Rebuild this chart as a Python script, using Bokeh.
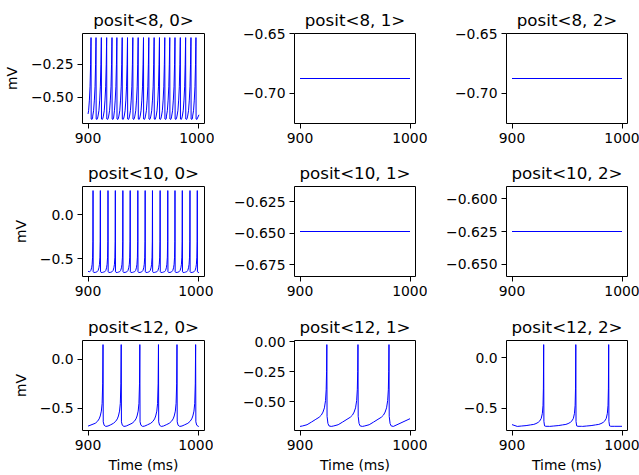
from bokeh.plotting import figure
from bokeh.layouts import gridplot
from bokeh.models import Range1d, FixedTicker
from bokeh.embed import file_html
from bokeh.resources import INLINE

# ---------------- data ----------------
titles = [["posit<8, 0>", "posit<8, 1>", "posit<8, 2>"],
          ["posit<10, 0>", "posit<10, 1>", "posit<10, 2>"],
          ["posit<12, 0>", "posit<12, 1>", "posit<12, 2>"]]

x_ticks = [900, 1000]
x_tick_labels = ["900", "1000"]

y_ticks = [[[-0.25, -0.50], [-0.65, -0.70], [-0.65, -0.70]],
           [[0.0, -0.5], [-0.625, -0.650, -0.675], [-0.600, -0.625, -0.650]],
           [[0.0, -0.5], [0.00, -0.25, -0.50], [0.0, -0.5]]]
y_tick_labels = [[["−0.25", "−0.50"], ["−0.65", "−0.70"], ["−0.65", "−0.70"]],
                 [["0.0", "−0.5"], ["−0.625", "−0.650", "−0.675"], ["−0.600", "−0.625", "−0.650"]],
                 [["0.0", "−0.5"], ["0.00", "−0.25", "−0.50"], ["0.0", "−0.5"]]]

# flat traces (constant membrane potential)
flat_8_1 = -0.6875
flat_8_2 = -0.6875
flat_10_1 = -0.6487
flat_10_2 = -0.625

# posit<8, 0>
spikes_8_0 = [902.7, 907.2, 912.0, 916.8, 921.6, 926.0, 930.8, 935.6, 940.4, 945.2,
              950.0, 954.8, 959.6, 964.4, 969.2, 973.7, 978.4, 983.2, 988.0, 992.8, 997.3]
peak_8_0 = -0.05
pre_dt_8_0 = [-3.0, -2.2, -1.5, -0.9, -0.4, -0.15]
pre_v_8_0 = [-0.64, -0.60, -0.52, -0.42, -0.25, -0.12]
post_dt_8_0 = [0.12, 0.9, 1.4]
post_v_8_0 = [-0.662, -0.665, -0.655]
ends_8_0 = [-0.624, -0.63]

# posit<10, 0>
spikes_10_0 = [904.5, 911.1, 918.0, 924.6, 931.4, 938.0, 944.9, 951.5, 958.1, 965.0,
               971.9, 978.4, 985.0, 991.9, 998.5]
peak_10_0 = 0.271
pre_dt_10_0 = [-3.0, -2.0, -1.3, -0.8, -0.4, -0.15]
pre_v_10_0 = [-0.645, -0.63, -0.60, -0.56, -0.48, -0.30]
post_dt_10_0 = [0.15, 0.6, 2.0, 3.0]
post_v_10_0 = [-0.645, -0.652, -0.652, -0.648]
ends_10_0 = [-0.64, -0.652]

# posit<12, 0>
spikes_12_0 = [913.5, 929.9, 946.7, 963.5, 980.2, 997.0]
peak_12_0 = 0.153
pre_dt_12_0 = [-7.0, -5.0, -3.5, -2.5, -1.5, -0.8, -0.3]
pre_v_12_0 = [-0.655, -0.635, -0.61, -0.58, -0.53, -0.45, -0.25]
post_dt_12_0 = [0.2, 1.0, 2.5, 4.5, 7.0]
post_v_12_0 = [-0.64, -0.675, -0.687, -0.683, -0.67]
ends_12_0 = [-0.684, -0.686]

# posit<12, 1>
spikes_12_1 = [924.4, 952.7, 980.9]
peak_12_1 = -0.025
pre_dt_12_1 = [-22.0, -18.0, -14.0, -10.0, -7.0, -5.0, -3.5, -2.2, -1.2, -0.6, -0.25]
pre_v_12_1 = [-0.70, -0.69, -0.668, -0.645, -0.628, -0.61, -0.585, -0.55, -0.49, -0.40, -0.25]
post_dt_12_1 = [0.2, 1.0, 2.0, 4.0]
post_v_12_1 = [-0.62, -0.68, -0.70, -0.704]
ends_12_1 = [-0.704, -0.64]

# posit<12, 2>
spikes_12_2 = [928.8, 958.0, 987.9]
peak_12_2 = 0.132
pre_dt_12_2 = [-24.0, -20.0, -16.0, -12.0, -9.0, -7.0, -5.0, -3.5, -2.2, -1.2, -0.6, -0.25]
pre_v_12_2 = [-0.68, -0.676, -0.672, -0.665, -0.66, -0.652, -0.64, -0.625, -0.60, -0.55, -0.47, -0.30]
post_dt_12_2 = [0.2, 0.8, 2.0, 5.0]
post_v_12_2 = [-0.63, -0.675, -0.679, -0.679]
ends_12_2 = [-0.662, -0.679]

T0, T1 = 900.0, 1000.0


def build(spikes, peak, pre_dt, pre_v, post_dt, post_v, ends):
    ts, vs = [T0], [ends[0]]
    for s in spikes:
        for d, v in zip(pre_dt, pre_v):
            t = s + d
            if t > ts[-1]:
                ts.append(t)
                vs.append(v)
        ts.append(s)
        vs.append(peak)
        for d, v in zip(post_dt, post_v):
            t = s + d
            if t < T1:
                ts.append(t)
                vs.append(v)
    ts.append(T1)
    vs.append(ends[1])
    return ts, vs


def flat(v):
    return [T0, T1], [v, v]


traces = [[build(spikes_8_0, peak_8_0, pre_dt_8_0, pre_v_8_0, post_dt_8_0, post_v_8_0, ends_8_0),
           flat(flat_8_1), flat(flat_8_2)],
          [build(spikes_10_0, peak_10_0, pre_dt_10_0, pre_v_10_0, post_dt_10_0, post_v_10_0, ends_10_0),
           flat(flat_10_1), flat(flat_10_2)],
          [build(spikes_12_0, peak_12_0, pre_dt_12_0, pre_v_12_0, post_dt_12_0, post_v_12_0, ends_12_0),
           build(spikes_12_1, peak_12_1, pre_dt_12_1, pre_v_12_1, post_dt_12_1, post_v_12_1, ends_12_1),
           build(spikes_12_2, peak_12_2, pre_dt_12_2, pre_v_12_2, post_dt_12_2, post_v_12_2, ends_12_2)]]

# ---------------- layout ----------------
FONT = "DejaVu Sans"
col_left = [81, 80, 79]
col_frame = [122, 121, 121]
col_right = [10, 12, 13]
row_top = [33, 33, 34]
row_frame = [90, 90, 90]
row_bottom = [30, 30, 45]


def yrange(vs):
    lo, hi = min(vs), max(vs)
    if hi == lo:
        h = 0.05 * abs(lo)
        lo, hi = lo - h, hi + h
    pad = 0.05 * (hi - lo)
    return Range1d(lo - pad, hi + pad)


rows = []
for r in range(3):
    row = []
    for c in range(3):
        ts, vs = traces[r][c]
        p = figure(frame_width=col_frame[c], frame_height=row_frame[r],
                   min_border_left=col_left[c], min_border_right=col_right[c],
                   min_border_top=row_top[r], min_border_bottom=row_bottom[r],
                   x_range=Range1d(895, 1005), y_range=yrange(vs),
                   output_backend="svg", toolbar_location=None, tools="")
        p.line(ts, vs, line_color="#0000ff", line_width=1.0)
        p.grid.visible = False
        p.outline_line_color = "black"
        p.outline_line_width = 1
        p.title.text = titles[r][c]
        p.title.align = "center"
        p.title.text_font = FONT
        p.title.text_font_size = "16.7px"
        p.title.text_font_style = "normal"
        p.title.text_color = "black"
        p.title.standoff = 8
        p.title.offset = 0
        for ax in (p.xaxis[0], p.yaxis[0]):
            ax.axis_line_color = None
            ax.major_tick_line_color = "black"
            ax.major_tick_line_width = 1
            ax.major_tick_out = 5
            ax.major_tick_in = 0
            ax.minor_tick_line_color = None
            ax.major_label_text_font = FONT
            ax.major_label_text_font_size = "13.9px"
            ax.major_label_text_color = "black"
            ax.major_label_standoff = 4
            ax.axis_label_text_font = FONT
            ax.axis_label_text_font_size = "13.9px"
            ax.axis_label_text_font_style = "normal"
            ax.axis_label_text_color = "black"
        p.xaxis.ticker = FixedTicker(ticks=x_ticks)
        p.xaxis.major_label_overrides = {t: l for t, l in zip(x_ticks, x_tick_labels)}
        p.yaxis.ticker = FixedTicker(ticks=y_ticks[r][c])
        p.yaxis.major_label_overrides = {t: l for t, l in zip(y_ticks[r][c], y_tick_labels[r][c])}
        if c == 0:
            p.yaxis.axis_label = "mV"
            p.yaxis.axis_label_standoff = 8
        if r == 2:
            p.xaxis.axis_label = "Time (ms)"
            p.xaxis.axis_label_standoff = 4
        row.append(p)
    rows.append(row)

grid = gridplot(rows, toolbar_location=None)
open("out.html", "w").write(file_html(grid, INLINE))
